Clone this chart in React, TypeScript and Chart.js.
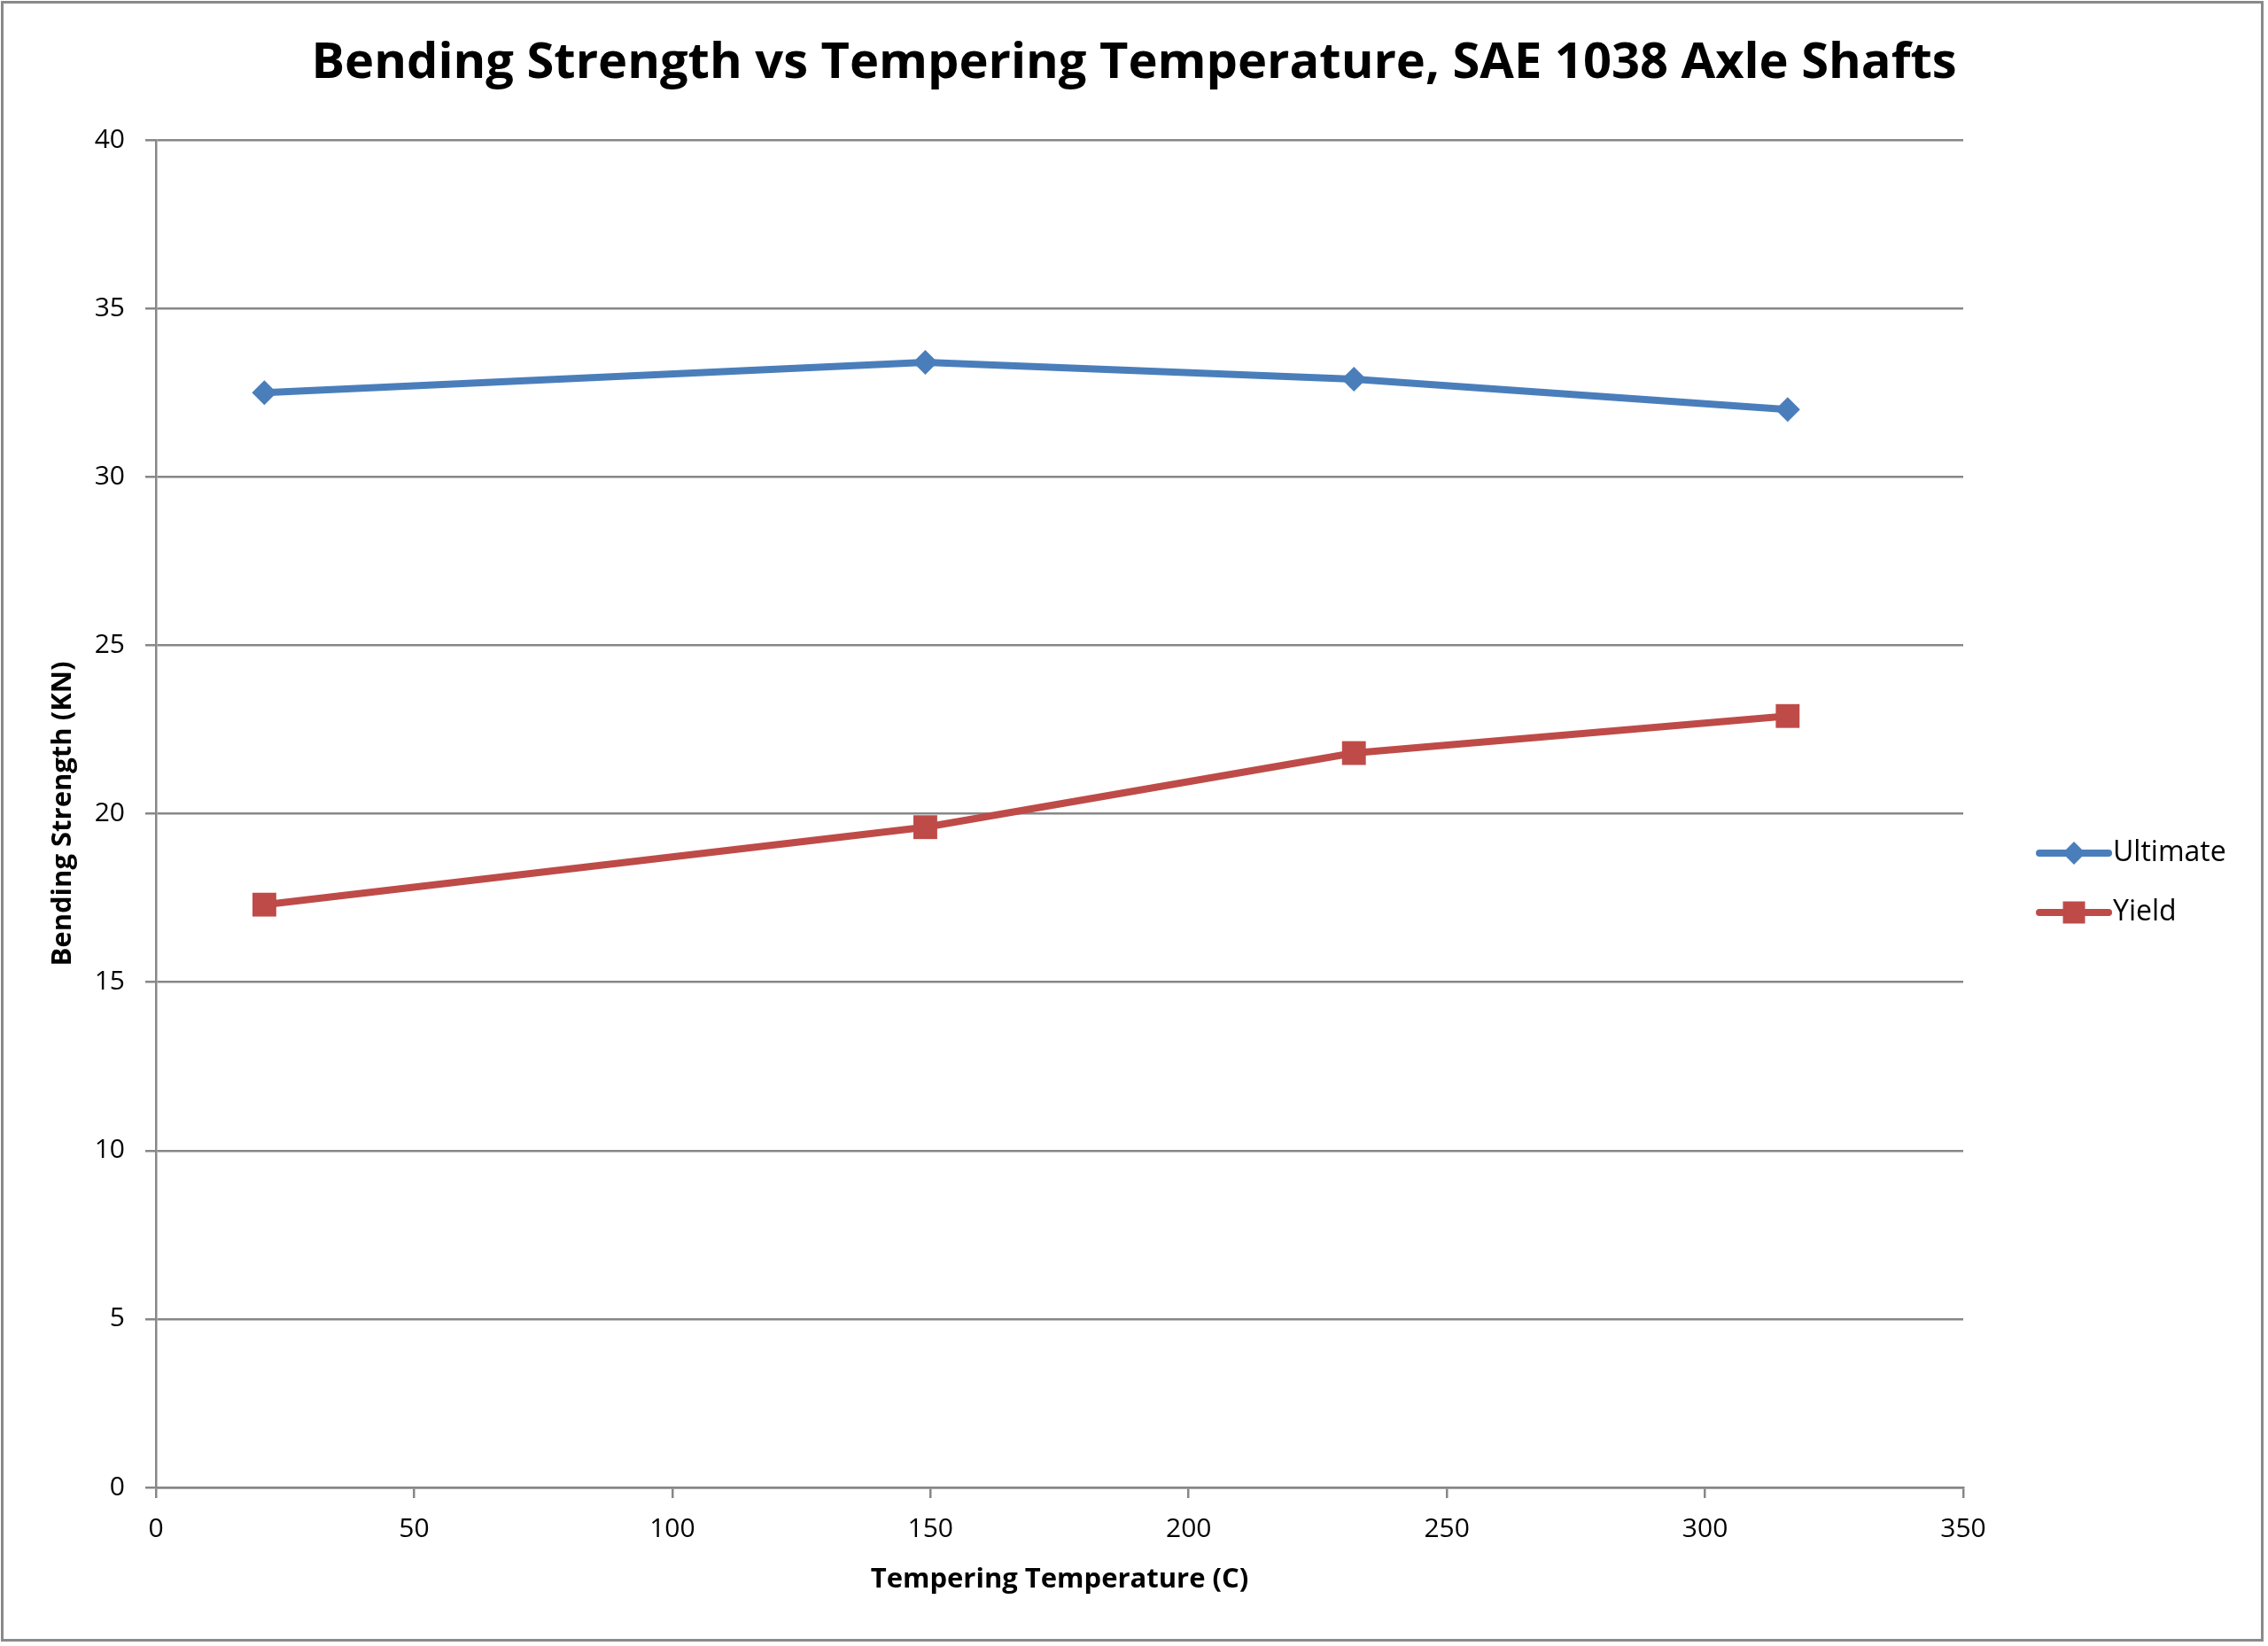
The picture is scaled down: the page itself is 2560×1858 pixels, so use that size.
import { useEffect, useRef } from 'react'
import { Chart, registerables } from 'chart.js'
Chart.register(...registerables)

const temperatures = [21, 149, 232, 316]
const ultimate = [32.5, 33.4, 32.9, 32.0]
const yieldStrength = [17.3, 19.6, 21.8, 22.9]
const seriesNames = ['Ultimate', 'Yield']
const chartTitle = 'Bending Strength vs Tempering Temperature, SAE 1038 Axle Shafts'

const FONT = '"Open Sans", "DejaVu Sans", sans-serif'
const GRID = '#878787'

// excel-style legend: short line with the marker in the middle
const legendPlugin = {
  id: 'lineLegend',
  afterDraw(chart: any) {
    const ctx = chart.ctx
    const x0 = 2302
    const x1 = 2380
    chart.data.datasets.forEach((ds: any, i: number) => {
      const y = 963 + i * 67
      ctx.save()
      ctx.strokeStyle = ds.borderColor
      ctx.lineWidth = 8
      ctx.lineCap = 'round'
      ctx.beginPath()
      ctx.moveTo(x0, y)
      ctx.lineTo(x1, y)
      ctx.stroke()
      const cx = (x0 + x1) / 2
      ctx.fillStyle = ds.pointBackgroundColor
      ctx.beginPath()
      if (ds.pointStyle === 'rectRot') {
        ctx.moveTo(cx, y - 13)
        ctx.lineTo(cx + 13, y)
        ctx.lineTo(cx, y + 13)
        ctx.lineTo(cx - 13, y)
        ctx.closePath()
      } else {
        ctx.rect(cx - 12.5, y - 12.5, 25, 25)
      }
      ctx.fill()
      ctx.fillStyle = '#000'
      ctx.font = `32px ${FONT}`
      ctx.textBaseline = 'middle'
      ctx.textAlign = 'left'
      ctx.fillText(ds.label, x1 + 5, y)
      ctx.restore()
    })
  },
}

// background, outer frame and the title centred over the whole picture
const framePlugin = {
  id: 'frame',
  beforeDraw(chart: any) {
    const ctx = chart.ctx
    ctx.save()
    ctx.fillStyle = '#fff'
    ctx.fillRect(0, 0, chart.width, chart.height)
    ctx.strokeStyle = '#8a8a8a'
    ctx.lineWidth = 3
    ctx.strokeRect(2.5, 2.5, 2551, 1849)
    ctx.fillStyle = '#000'
    ctx.font = `bold 56px ${FONT}`
    ctx.textAlign = 'center'
    ctx.textBaseline = 'middle'
    ctx.fillText(chartTitle, chart.width / 2, 72)
    ctx.restore()
  },
}

const App = () => {
  const canvas = useRef<any>(null)
  useEffect(() => {
    document.body.style.margin = '0'
    const chart = new Chart(canvas.current, {
      type: 'line',
      data: {
        datasets: [
          {
            label: seriesNames[0],
            data: temperatures.map((t, i) => ({ x: t, y: ultimate[i] })),
            borderColor: '#4a7ebb',
            backgroundColor: '#4a7ebb',
            pointBackgroundColor: '#4a7ebb',
            pointBorderWidth: 0,
            borderWidth: 8,
            pointStyle: 'rectRot',
            pointRadius: 14,
            borderJoinStyle: 'round',
            borderCapStyle: 'round',
          },
          {
            label: seriesNames[1],
            data: temperatures.map((t, i) => ({ x: t, y: yieldStrength[i] })),
            borderColor: '#be4b48',
            backgroundColor: '#be4b48',
            pointBackgroundColor: '#be4b48',
            pointBorderWidth: 0,
            borderWidth: 8,
            pointStyle: 'rect',
            pointRadius: 19,
            borderJoinStyle: 'round',
            borderCapStyle: 'round',
          },
        ],
      },
      options: {
        responsive: false,
        animation: false,
        devicePixelRatio: 1,
        layout: { padding: { left: 0, right: 344, top: 158, bottom: 0 } },
        plugins: {
          legend: { display: false },
          tooltip: { enabled: false },
          title: { display: false },
        },
        scales: {
          x: {
            type: 'linear',
            min: 0,
            max: 350,
            ticks: {
              stepSize: 50,
              color: '#000',
              padding: 17,
              font: { family: FONT, size: 30 },
              maxRotation: 0,
            },
            grid: { drawOnChartArea: false, drawTicks: true, tickLength: 12, color: GRID, lineWidth: 2.5 },
            border: { color: GRID, width: 2.5 },
            title: {
              display: true,
              text: 'Tempering Temperature (C)',
              color: '#000',
              font: { family: FONT, size: 31, weight: 'bold', lineHeight: 1.2 },
              padding: { top: 0, bottom: 56 },
            },
            afterFit(scale: any) {
              scale.height = 179
            },
          },
          y: {
            min: 0,
            max: 40,
            ticks: {
              stepSize: 5,
              color: '#000',
              padding: 23,
              font: { family: FONT, size: 30 },
            },
            grid: { color: GRID, lineWidth: 2.5, tickLength: 12 },
            border: { color: GRID, width: 2.5 },
            title: {
              display: true,
              text: 'Bending Strength (KN)',
              color: '#000',
              font: { family: FONT, size: 31, weight: 'bold', lineHeight: 1.2 },
              padding: { top: 53, bottom: 0 },
            },
            afterFit(scale: any) {
              scale.width = 176
            },
          },
        },
      } as any,
      plugins: [framePlugin, legendPlugin],
    })
    return () => chart.destroy()
  }, [])
  return (
    <div style={{ position: 'absolute', left: 0, top: 0 }}>
      <canvas ref={canvas} width={2560} height={1858}></canvas>
    </div>
  )
}

export default App
